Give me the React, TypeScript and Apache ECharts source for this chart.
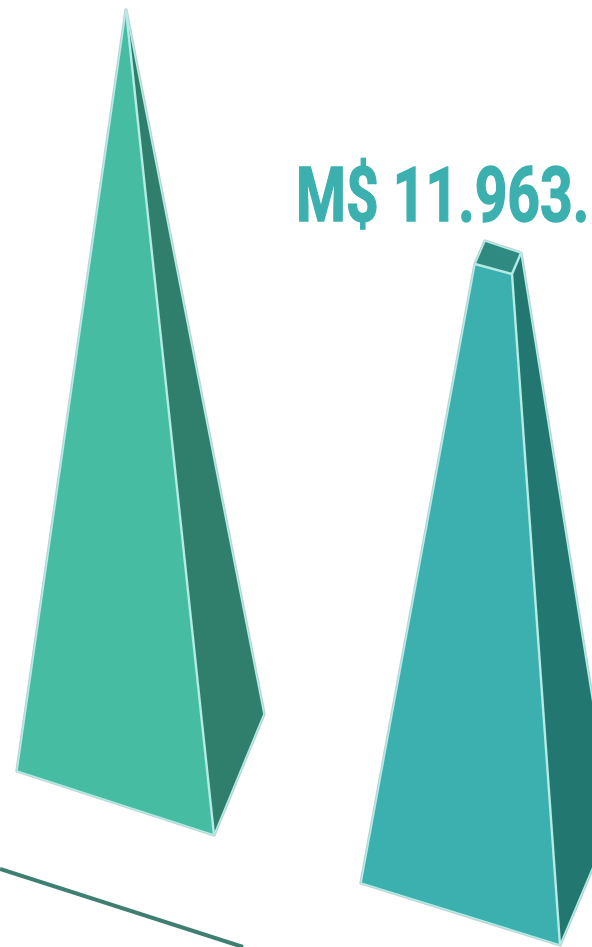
import React, { useEffect, useRef } from "react";
import * as echarts from "echarts";

const WIDTH = 592;
const HEIGHT = 947;

type Pt = [number, number];

const leftPyramidLeftFace: Pt[] = [[126, 10], [17, 771], [214, 835]];
const leftPyramidRightFace: Pt[] = [[126, 10], [214, 835], [264, 714]];
const rightPyramidTop: Pt[] = [[475, 264], [485, 241], [521, 253], [512, 274]];
const rightPyramidLeftFace: Pt[] = [[475, 264], [361, 883], [560, 945], [512, 274]];
const rightPyramidRightFace: Pt[] = [[512, 274], [560, 945], [612, 822], [521, 253]];
const groundLine: Pt[] = [[0, 869], [243, 947]];

const leftSilhouette: Pt[] = [[126, 10], [17, 771], [214, 835], [264, 714]];
const rightSilhouette: Pt[] = [[485, 241], [475, 264], [361, 883], [560, 945], [612, 822], [521, 253]];
const leftRidge: Pt[] = [[126, 10], [214, 835]];
const rightRidge: Pt[] = [[512, 274], [560, 945]];
const rightTopEdge: Pt[] = [[475, 264], [512, 274], [521, 253]];

const labelText = "M$ 11.963.";
const labelAnchor: Pt = [296, 195];

const outlineGray = "#C3CFD0";
const edgeLight = "#B4EBE5";

const polygons = [
  { pts: leftSilhouette, kind: "halo" },
  { pts: rightSilhouette, kind: "halo" },
  { pts: leftPyramidLeftFace, kind: "fill", color: "#46BCA2" },
  { pts: leftPyramidRightFace, kind: "fill", color: "#2F7F6C" },
  { pts: rightPyramidLeftFace, kind: "fill", color: "#3CB0AE" },
  { pts: rightPyramidRightFace, kind: "fill", color: "#237771" },
  { pts: rightPyramidTop, kind: "fill", color: "#2F8A82" },
  { pts: leftSilhouette, kind: "edge" },
  { pts: rightSilhouette, kind: "edge" },
  { pts: leftRidge, kind: "ridge" },
  { pts: rightRidge, kind: "ridge" },
  { pts: rightTopEdge, kind: "ridge" },
  { pts: groundLine, kind: "line" },
];

export default function App() {
  const ref = useRef<HTMLDivElement>(null);
  useEffect(() => {
    const chart = echarts.init(ref.current!, undefined, { renderer: "svg" });
    chart.setOption({
      animation: false,
      backgroundColor: "#FFFFFF",
      grid: { left: 0, right: 0, top: 0, bottom: 0 },
      xAxis: { type: "value", min: 0, max: WIDTH, show: false },
      yAxis: { type: "value", min: 0, max: HEIGHT, inverse: true, show: false },
      series: [
        {
          type: "custom",
          coordinateSystem: "cartesian2d",
          clip: false,
          silent: true,
          data: polygons.map((p) => p.pts[0]),
          renderItem: (params: any, api: any) => {
            const p = polygons[params.dataIndex] as any;
            const pts = p.pts.map((q: Pt) => api.coord(q));
            if (p.kind === "fill") {
              return { type: "polygon", shape: { points: pts }, style: { fill: p.color, stroke: p.color, lineWidth: 0.5 } };
            }
            if (p.kind === "halo") {
              return { type: "polygon", shape: { points: pts }, style: { fill: "none", stroke: outlineGray, lineWidth: 3.4, lineJoin: "round" } };
            }
            if (p.kind === "edge") {
              return { type: "polygon", shape: { points: pts }, style: { fill: "none", stroke: edgeLight, lineWidth: 1.6, lineJoin: "round" } };
            }
            if (p.kind === "ridge") {
              return { type: "polyline", shape: { points: pts }, style: { fill: "none", stroke: edgeLight, lineWidth: 2.4 } };
            }
            return { type: "polyline", shape: { points: pts }, style: { fill: "none", stroke: "#3F7F72", lineWidth: 4 } };
          },
        },
        {
          type: "custom",
          coordinateSystem: "cartesian2d",
          clip: false,
          silent: true,
          data: [labelAnchor],
          renderItem: (_: any, api: any) => {
            const c = api.coord(labelAnchor);
            return {
              type: "text",
              x: c[0],
              y: c[1],
              scaleX: 0.75,
              style: {
                text: labelText,
                x: 0,
                y: 0,
                fill: "#3BB0AE",
                stroke: "#3BB0AE",
                lineWidth: 1.5,
                lineJoin: "round",
                font: "bold 76px Roboto",
                align: "left",
                verticalAlign: "middle",
              },
            };
          },
        },
      ],
    });
    return () => chart.dispose();
  }, []);
  return <div ref={ref} style={{ position: "fixed", left: 0, top: 0, width: WIDTH, height: HEIGHT }} />;
}
